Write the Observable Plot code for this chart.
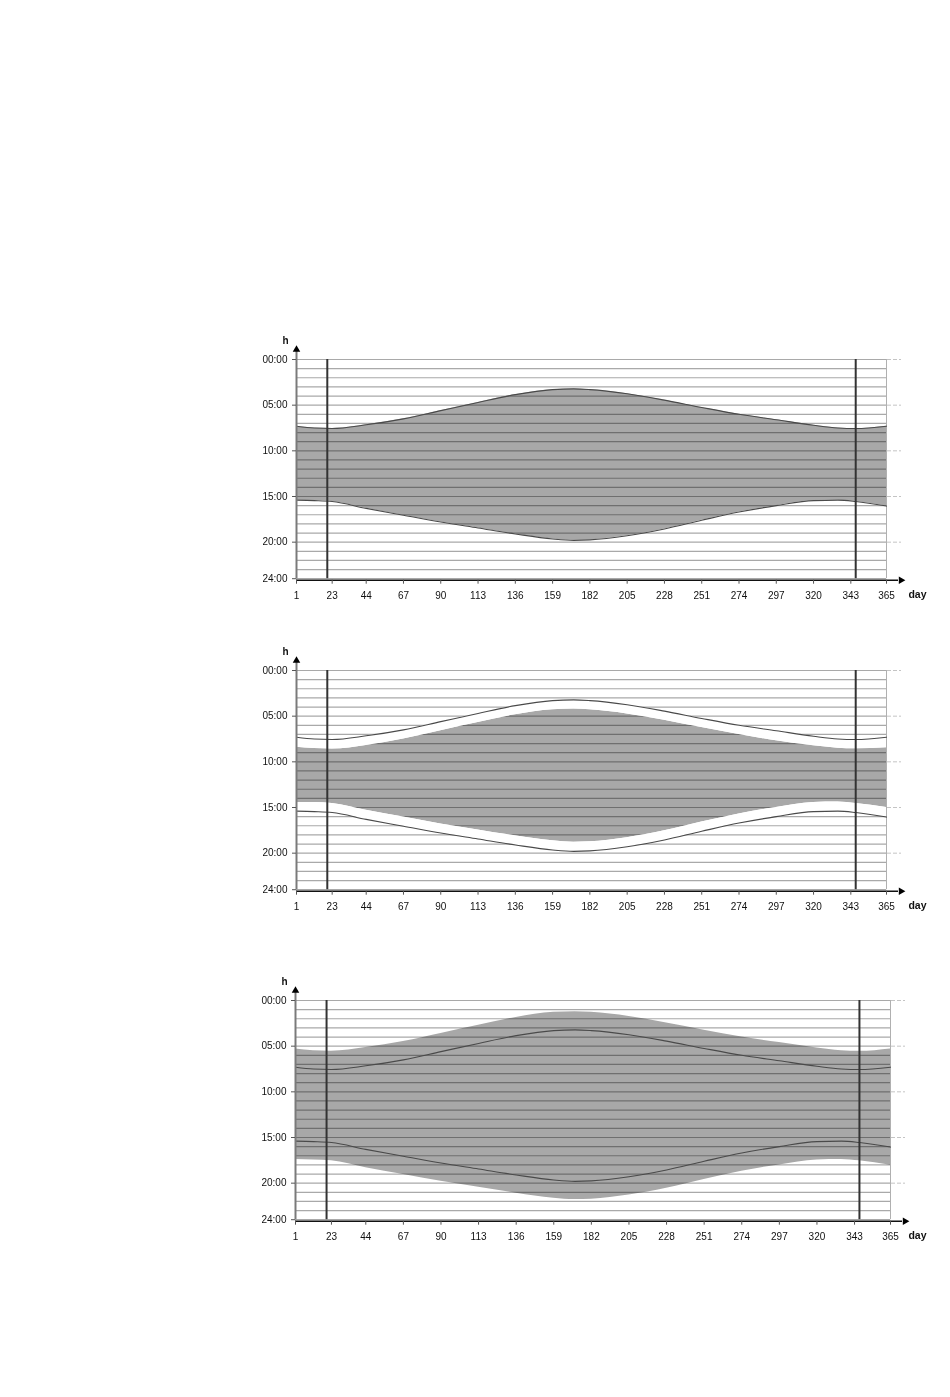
<!DOCTYPE html>
<html><head><meta charset="utf-8">
<script src="https://cdn.jsdelivr.net/npm/d3@7"></script>
<script src="https://cdn.jsdelivr.net/npm/@observablehq/plot@0.6"></script>
<style>
body{margin:0;background:#fff;}
#wrap{position:relative;width:950px;height:1397px;overflow:hidden;}
.panel{position:absolute;left:0;}
</style></head><body><div id="wrap"></div>
<script>
// sample days (day of year)
const days = [1, 12, 23, 44, 67, 90, 113, 136, 159, 172, 182, 205, 228, 251, 274, 297, 320, 335, 346, 365];
// sunrise / sunset curves (hours)
const sunrise = [7.3, 7.5, 7.55, 7.15, 6.5, 5.6, 4.7, 3.85, 3.3, 3.22, 3.3, 3.75, 4.45, 5.25, 6.0, 6.6, 7.2, 7.5, 7.56, 7.3];
const sunset  = [15.4, 15.45, 15.55, 16.3, 17.05, 17.8, 18.45, 19.1, 19.65, 19.8, 19.75, 19.3, 18.55, 17.6, 16.7, 16.0, 15.45, 15.4, 15.55, 16.05];
// panel 2 shaded band
const band2Top    = [8.4, 8.55, 8.6, 8.2, 7.5, 6.6, 5.7, 4.85, 4.3, 4.22, 4.3, 4.75, 5.45, 6.25, 7.0, 7.7, 8.25, 8.5, 8.58, 8.45];
const band2Bottom = [14.45, 14.45, 14.55, 15.3, 16.05, 16.8, 17.45, 18.1, 18.65, 18.8, 18.75, 18.3, 17.55, 16.6, 15.7, 15.0, 14.45, 14.4, 14.55, 15.0];
// panel 3 shaded band
const band3Top    = [5.3, 5.5, 5.55, 5.15, 4.5, 3.6, 2.7, 1.85, 1.3, 1.22, 1.3, 1.75, 2.45, 3.25, 4.0, 4.6, 5.2, 5.5, 5.56, 5.3];
const band3Bottom = [17.4, 17.45, 17.55, 18.3, 19.05, 19.8, 20.45, 21.1, 21.65, 21.8, 21.75, 21.3, 20.55, 19.6, 18.7, 18.0, 17.45, 17.4, 17.55, 18.05];

const dayTicks = [1, 23, 44, 67, 90, 113, 136, 159, 182, 205, 228, 251, 274, 297, 320, 343, 365];
const hourTicks = [0, 5, 10, 15, 20, 24];
const hourLines = [0,1,2,3,4,5,6,7,8,9,10,11,12,13,14,15,16,17,18,19,20,21,22,23,24];
const markerDays = [20, 346];
const xDomain = [1, 365];
const yDomain = [0, 24];

const FONT = "'Liberation Sans', Arial, sans-serif";

function panel({top, bandTop, bandBottom, ribbons, left, right}) {
  const data = days.map((d, i) => ({day: d, rise: sunrise[i], set: sunset[i], top: bandTop[i], bottom: bandBottom[i]}));
  const corner = [{x: xDomain[0], y: yDomain[0]}];
  const endX = [{x: xDomain[1], y: yDomain[1]}];
  const marks = [
    Plot.areaY(data, {x: "day", y1: "top", y2: "bottom", fill: "#a8a8a8", curve: "monotone-x"}),
    Plot.ruleY(hourLines, {stroke: "#a9a9a9", strokeWidth: 1.2, mixBlendMode: "multiply"}),
  ];
  if (ribbons) {
    marks.push(
      Plot.areaY(data, {x: "day", y1: "rise", y2: "top", fill: "#fff", curve: "monotone-x"}),
      Plot.areaY(data, {x: "day", y1: "bottom", y2: "set", fill: "#fff", curve: "monotone-x"})
    );
  }
  marks.push(
    Plot.ruleX([xDomain[1]], {y1: yDomain[0], y2: yDomain[1], stroke: "#b0b0b0", strokeWidth: 1}),
    Plot.line(data, {x: "day", y: "rise", stroke: "#4a4a4a", strokeWidth: 1.1, curve: "monotone-x"}),
    Plot.line(data, {x: "day", y: "set", stroke: "#4a4a4a", strokeWidth: 1.1, curve: "monotone-x"}),
    Plot.ruleX(markerDays, {y1: yDomain[0], y2: yDomain[1], stroke: "#333", strokeWidth: 2}),
    Plot.ruleX([xDomain[0]], {y1: yDomain[0], y2: yDomain[1], stroke: "#7a7a7a", strokeWidth: 2, insetTop: -10}),
    Plot.dot(corner, {x: "x", y: "y", symbol: "triangle", r: 2.8, fill: "#000", stroke: null, dy: -10}),
    Plot.ruleY([yDomain[1]], {stroke: "#111", strokeWidth: 1.5, dy: 1.5, insetRight: -12}),
    Plot.dot(endX, {x: "x", y: "y", symbol: "triangle", r: 2.8, fill: "#000", stroke: null, rotate: 90, dx: 14.5, dy: 1.5}),
    Plot.axisX({ticks: dayTicks, tickSize: 4, tickPadding: 7.5, dy: 1.5, label: null, stroke: "#555", fill: "#111", tickFormat: d => String(d)}),
    Plot.axisY({anchor: "left", ticks: hourTicks, tickSize: 4, tickPadding: 5, label: null, stroke: "#555", fill: "#111",
      tickFormat: h => (h < 10 ? "0" : "") + h + ":00"}),
    Plot.axisY({anchor: "right", ticks: [0, 5, 10, 15, 20], tickSize: 14, tickPadding: 0, label: null, stroke: "#c4c4c4",
      strokeDasharray: "4,2", tickFormat: () => ""}),
    Plot.text(corner, {x: "x", y: "y", text: () => "h", dx: -11, dy: -19, fontWeight: "bold", fontSize: 10, fill: "#111"}),
    Plot.text(endX, {x: "x", y: "y", text: () => "day", dx: 917 - (950 - right), dy: 15.5, fontWeight: "bold", fontSize: 10.5, fill: "#111"})
  );
  const svg = Plot.plot({
    width: 950, height: 300,
    marginLeft: left, marginRight: right, marginTop: 40, marginBottom: 40.8,
    x: {domain: xDomain},
    y: {domain: yDomain, reverse: true},
    style: {fontFamily: FONT, fontSize: "10px", background: "transparent", overflow: "visible"},
    marks
  });
  const div = document.createElement("div");
  div.className = "panel";
  div.style.top = top + "px";
  div.appendChild(svg);
  document.getElementById("wrap").appendChild(div);
}

panel({top: 319.3, bandTop: sunrise, bandBottom: sunset, ribbons: false, left: 296, right: 64});
panel({top: 630, bandTop: band2Top, bandBottom: band2Bottom, ribbons: true, left: 296, right: 64});
panel({top: 960, bandTop: band3Top, bandBottom: band3Bottom, ribbons: false, left: 295, right: 60});
</script></body></html>
